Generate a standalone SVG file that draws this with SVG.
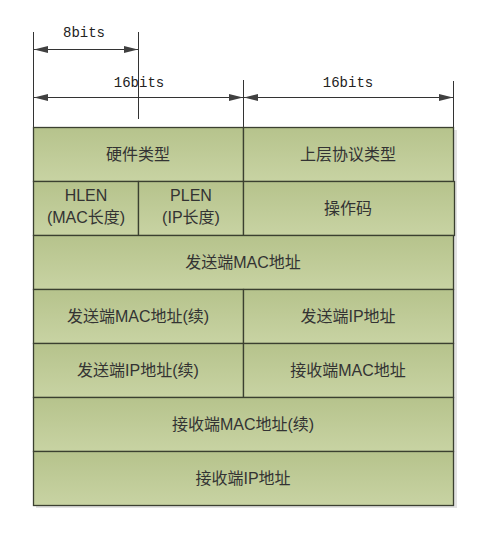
<svg xmlns="http://www.w3.org/2000/svg" width="487" height="534" viewBox="0 0 487 534">
<defs>
<linearGradient id="g" x1="0" y1="0" x2="0" y2="1">
<stop offset="0" stop-color="#b6c38c"/>
<stop offset="1" stop-color="#c8d3a3"/>
</linearGradient>
<marker id="ah" viewBox="0 0 14 8" refX="14" refY="4" markerWidth="14" markerHeight="8" markerUnits="userSpaceOnUse" orient="auto-start-reverse">
<path d="M0,0.5 L14,4 L0,7.5 Z" fill="#404040"/>
</marker>
<style>
.cell{fill:url(#g);stroke:#3b4030;stroke-width:1.3}
.sh{fill:#e2e2e2}
.t{font-family:"Liberation Sans","Noto Sans CJK SC",sans-serif;font-size:16px;fill:#333;text-anchor:middle}
.dim{font-family:"Liberation Mono","Noto Sans Mono",monospace;font-size:14px;fill:#222;text-anchor:middle}
.ext{stroke:#333;stroke-width:1}
.arr{stroke:#333;stroke-width:1;marker-start:url(#ah);marker-end:url(#ah)}
</style>
</defs>
<rect width="487" height="534" fill="#fff"/>
<rect class="sh" x="36" y="130" width="421" height="378"/>
<g id="connectors">
<line class="ext" x1="33.5" y1="32" x2="33.5" y2="127"/>
<line class="ext" x1="138.5" y1="32" x2="138.5" y2="119"/>
<line class="ext" x1="243.5" y1="80" x2="243.5" y2="127"/>
<line class="ext" x1="453.5" y1="81" x2="453.5" y2="127"/>
<line class="arr" x1="34" y1="49.5" x2="138" y2="49.5"/>
<line class="arr" x1="34" y1="97.5" x2="243" y2="97.5"/>
<line class="arr" x1="244" y1="97.5" x2="453" y2="97.5"/>
<text class="dim" x="84" y="37">8bits</text>
<text class="dim" x="139" y="87">16bits</text>
<text class="dim" x="348" y="87">16bits</text>
</g>
<g id="hw"><rect class="cell" x="33.5" y="127.5" width="210" height="54"/><text class="t" x="138" y="160">硬件类型</text></g>
<g id="proto"><rect class="cell" x="243.5" y="127.5" width="210" height="54"/><text class="t" x="348" y="160">上层协议类型</text></g>
<g id="hlen"><rect class="cell" x="33.5" y="181.5" width="105" height="54"/><text class="t" x="86" y="201">HLEN</text><text class="t" x="86" y="223">(MAC长度)</text></g>
<g id="plen"><rect class="cell" x="138.5" y="181.5" width="105" height="54"/><text class="t" x="191" y="201">PLEN</text><text class="t" x="191" y="223">(IP长度)</text></g>
<g id="op"><rect class="cell" x="243.5" y="181.5" width="211" height="54"/><text class="t" x="348" y="214">操作码</text></g>
<g id="smac"><rect class="cell" x="33.5" y="235.5" width="420" height="54"/><text class="t" x="243" y="268">发送端MAC地址</text></g>
<g id="smac2"><rect class="cell" x="33.5" y="289.5" width="210" height="54"/><text class="t" x="138" y="322">发送端MAC地址(续)</text></g>
<g id="sip"><rect class="cell" x="243.5" y="289.5" width="210" height="54"/><text class="t" x="348" y="322">发送端IP地址</text></g>
<g id="sip2"><rect class="cell" x="33.5" y="343.5" width="210" height="54"/><text class="t" x="138" y="376">发送端IP地址(续)</text></g>
<g id="rmac"><rect class="cell" x="243.5" y="343.5" width="210" height="54"/><text class="t" x="348" y="376">接收端MAC地址</text></g>
<g id="rmac2"><rect class="cell" x="33.5" y="397.5" width="420" height="54"/><text class="t" x="243" y="430">接收端MAC地址(续)</text></g>
<g id="rip"><rect class="cell" x="33.5" y="451.5" width="420" height="54"/><text class="t" x="243" y="484">接收端IP地址</text></g>
</svg>
